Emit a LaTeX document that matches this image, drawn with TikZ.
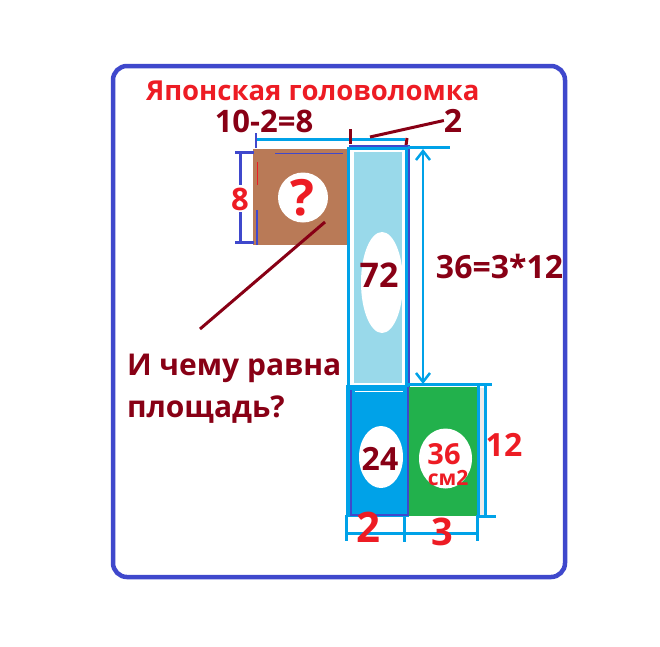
\documentclass[tikz,border=0pt]{standalone}
\usepackage{fontspec}
\setmainfont{Open Sans}
\usetikzlibrary{arrows.meta,shapes.geometric}
\definecolor{dred}{RGB}{136,0,21}
\definecolor{pred}{RGB}{237,28,36}
\definecolor{cyanc}{RGB}{0,162,232}
\definecolor{lblue}{RGB}{153,217,234}
\definecolor{brownc}{RGB}{185,122,87}
\definecolor{greenc}{RGB}{34,177,76}
\definecolor{dblue}{RGB}{63,72,204}
\newcommand\fsz[1]{\fontsize{#1}{#1}\selectfont\bfseries}
\tikzset{
  txt/.style={inner sep=0pt, outer sep=0pt},
  cyl/.style={cyanc, line width=3pt},
  dbl/.style={dblue, line width=3pt},
  drl/.style={dred, line width=3pt},
  hole/.style={fill=white, draw=none, inner sep=0pt}
}
\begin{document}
\begin{tikzpicture}[x=1pt,y=-1pt]
\useasboundingbox (0,0) rectangle (660,646);
% frame
\draw[dblue, line width=4.5pt, rounded corners=14pt] (113,66) rectangle (565,577);
% title
\node[txt, anchor=base west, text=pred, font=\fsz{27.5}] (title) at (146,100) {Японская головоломка};
% top dimension
\draw[cyl] (256,139) -- (405,139);
\draw[dblue, line width=1.5pt] (256,133) -- (256,148);
\node[txt, text=dred, font=\fsz{31}] (w8) at (264,121) {10-2=8};
\node[txt, text=dred, font=\fsz{32}] (w2) at (453,120.5) {2};
\coordinate (tk1a) at (350,129); \coordinate (tk1b) at (350,144);
\coordinate (tk2a) at (407,138); \coordinate (tk2b) at (405,153);
\draw[drl] (tk1a) -- (tk1b);
\draw[drl] (tk2a) -- (tk2b);
\coordinate (sl1) at (370,137);
\draw[drl] (sl1) -- (w2.west);
% brown square
\fill[brownc] (253,149) rectangle (347,245);
\draw[dblue, line width=1pt] (275,153) -- (343,153);
\draw[dblue, line width=1.2pt] (257,210) -- (257,245);
\draw[pred, line width=0.8pt] (257,162) -- (257,185);
\node[hole, circle, minimum size=50pt] (qc) at (303,197.5) {};
\node[txt, text=pred, font=\fsz{50}] (q) at (302,198) {?};
% left dimension 8
\draw[dbl] (240,152) -- (240,185);
\draw[dbl] (240,212) -- (240,242);
\draw[dbl] (235,152) -- (254,152);
\draw[dbl] (235,242) -- (254,242);
\node[txt, text=pred, font=\fsz{31}] (h8) at (240,199) {8};
% tall rectangle
\draw[cyl, fill=white] (348,148) rectangle (406,387);
\fill[lblue] (354,152) rectangle (402,383);
\draw[dblue, line width=1.5pt] (349,146) -- (409,146) -- (409,387);
\node[hole, ellipse, minimum width=42pt, minimum height=101pt] (e72) at (382,282.5) {};
\node[txt, text=dred, font=\fsz{34}] (t72) at (379,275.5) {72};
% 36 dimension
\draw[cyl] (408,147) -- (450,147);
\coordinate (a1) at (423,149); \coordinate (a2) at (423,384);
\draw[cyanc, line width=2.5pt, {Straight Barb[length=9pt,width=14pt]}-{Straight Barb[length=9pt,width=14pt]}] (a1) -- (a2);
\node[txt, text=dred, font=\fsz{32}] (t36eq) at (499.5,266.5) {36=3*12};
% question
\coordinate (ql1) at (200,329); \coordinate (ql2) at (325,222);
\draw[drl] (ql1) -- (ql2);
\node[txt, anchor=base west, text=dred, font=\fsz{30}] (qa) at (127,375) {И чему равна};
\node[txt, anchor=base west, text=dred, font=\fsz{30}] (qb) at (127,417) {площадь?};
% blue rect
\fill[cyanc] (346,385) rectangle (409,517);
\draw[dblue, line width=1.3pt] (351,390) -- (351,515) -- (408,515) -- (408,387);
\draw[white, line width=1pt] (355,391) -- (403,391);
\node[hole, ellipse, minimum width=44pt, minimum height=62pt] (e24) at (381,457) {};
\node[txt, text=dred, font=\fsz{32}] (t24) at (380,458.5) {24};
% green rect
\fill[black!8] (479,388) rectangle (486,516);
\fill[greenc] (409,387) rectangle (477,516);
\draw[cyl] (408,384) -- (492,384);
\draw[cyl] (478,384) -- (478,516);
\node[hole, ellipse, minimum width=53pt, minimum height=60pt] (e36) at (445.5,458.5) {};
\node[txt, text=pred, font=\fsz{29}] (t36) at (444,454) {36};
\node[txt, text=pred, font=\fsz{21}] (tcm) at (448,478) {см2};
% right dimension 12
\draw[cyl] (485,383) -- (485,516);
\draw[cyl] (477,516) -- (496,516);
\node[txt, text=pred, font=\fsz{32}] (t12) at (504,444.5) {12};
% bottom dimension
\draw[cyl] (347,533) -- (478,533);
\draw[cyl] (346,515) -- (346,541);
\draw[cyl] (404,517) -- (404,542);
\draw[cyl] (477,515) -- (477,541);
\node[txt, text=pred, font=\fsz{42}] (b2) at (368,527) {2};
\node[txt, text=pred, font=\fsz{38}] (b3) at (442.5,531.5) {3};
\end{tikzpicture}
\end{document}
